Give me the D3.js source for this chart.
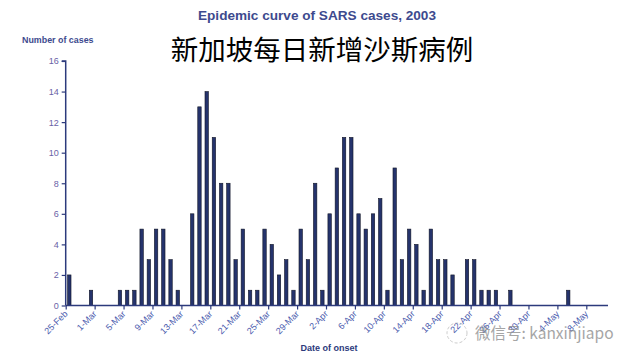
<!DOCTYPE html>
<html>
<head>
<meta charset="utf-8">
<script src="https://cdn.jsdelivr.net/npm/d3@7/dist/d3.min.js"></script>
<style>
  html, body { margin: 0; padding: 0; background: #fff; }
  svg { display: block; }
</style>
</head>
<body>
<svg id="chart" width="625" height="361"></svg>
<script>
// Daily SARS cases, index 0 = 25-Feb-2003
const startDate = "2003-02-25";
const cases = [2,0,0,1,0,0,0,1,1,1,5,3,5,5,3,1,0,6,13,14,11,8,8,3,5,1,1,5,4,2,3,1,5,3,8,1,6,9,11,11,6,5,6,7,1,9,3,5,4,1,5,3,3,2,0,3,3,1,1,1,0,1,0,0,0,0,0,0,0,1];
const tickDays = [0,4,8,12,16,20,24,28,32,36,40,44,48,52,56,60,64,68,72];
const tickLabels = ["25-Feb","1-Mar","5-Mar","9-Mar","13-Mar","17-Mar","21-Mar","25-Mar","29-Mar","2-Apr","6-Apr","10-Apr","14-Apr","18-Apr","22-Apr","26-Apr","30-Apr","4-May","8-May"];
const yTicks = [0,2,4,6,8,10,12,14,16];

const svg = d3.select("#chart");
const x = d3.scaleLinear().domain([0, 75]).range([65.7, 608]);
const y = d3.scaleLinear().domain([0, 16]).range([305.5, 61]);

const axisColor = "#2c3a7c";
const labelColor = "#4c5cae";

// Bars
svg.append("g").selectAll("rect").data(cases.map((v,i)=>({i,v})).filter(d=>d.v>0))
  .enter().append("rect")
  .attr("x", d => x(d.i + 0.5) - 1.7)
  .attr("width", 3.4)
  .attr("y", d => y(d.v))
  .attr("height", d => y(0) - y(d.v))
  .attr("fill", "#25336c")
  .attr("stroke", "#111526")
  .attr("stroke-width", 0.6);

// Y axis
const yAxis = d3.axisLeft(y).tickValues(yTicks).tickSize(4).tickPadding(3);
const gy = svg.append("g").attr("transform", `translate(${x(0)},0)`).call(yAxis);
gy.select(".domain").attr("stroke", axisColor).attr("stroke-width", 1.5).attr("d", `M-4,${y(16)}H0V${y(0)}`);
gy.selectAll(".tick line").attr("stroke", axisColor).attr("stroke-width", 1.2);
gy.selectAll(".tick text").attr("fill", "#6a5fa6").attr("font-family", "Liberation Sans, Arial, sans-serif").attr("font-size", 9);

// X axis
const xAxis = d3.axisBottom(x).tickValues(tickDays).tickSize(4).tickFormat((d,i)=>tickLabels[i]);
const gx = svg.append("g").attr("transform", `translate(0,${y(0)})`).call(xAxis);
gx.select(".domain").attr("stroke", axisColor).attr("stroke-width", 1.5).attr("d", `M${x(0)},0H${x(75)}`);
gx.selectAll(".tick line").attr("stroke", axisColor).attr("stroke-width", 1.2);
gx.selectAll(".tick text")
  .attr("fill", labelColor)
  .attr("font-family", "Liberation Sans, Arial, sans-serif")
  .attr("font-size", 9)
  .attr("text-anchor", "end")
  .attr("dy", null)
  .attr("y", null)
  .attr("transform", "translate(2,9) rotate(-45)");

// Titles
svg.append("text").attr("x", 317).attr("y", 20).attr("text-anchor", "middle")
  .attr("font-family", "Liberation Sans, Arial, sans-serif").attr("font-weight", "bold")
  .attr("font-size", 13.6).attr("fill", "#3d4a8e").text("Epidemic curve of SARS cases, 2003");
svg.append("text").attr("x", 22).attr("y", 43)
  .attr("font-family", "Liberation Sans, Arial, sans-serif").attr("font-weight", "bold")
  .attr("font-size", 8.9).attr("fill", "#3d4a8e").text("Number of cases");
svg.append("text").attr("x", 322).attr("y", 60).attr("text-anchor", "middle")
  .attr("font-family", "Noto Sans CJK SC, sans-serif")
  .attr("font-size", 27.5).attr("fill", "#000").text("新加坡每日新增沙斯病例");
svg.append("text").attr("x", 329).attr("y", 351).attr("text-anchor", "middle")
  .attr("font-family", "Liberation Sans, Arial, sans-serif").attr("font-weight", "bold")
  .attr("font-size", 9).attr("fill", "#2c3a7c").text("Date of onset");

// Watermark
const wm = svg.append("g").attr("opacity", 0.75);
wm.append("circle").attr("cx", 457).attr("cy", 333).attr("r", 10).attr("fill", "none").attr("stroke", "#bbb").attr("stroke-width", 1).attr("stroke-dasharray", "3,2");
wm.append("text").attr("x", 475).attr("y", 339)
  .attr("font-family", "Noto Sans CJK SC, sans-serif")
  .attr("font-size", 15.5).attr("fill", "#888").text("微信号: kanxinjiapo");
</script>
</body>
</html>
